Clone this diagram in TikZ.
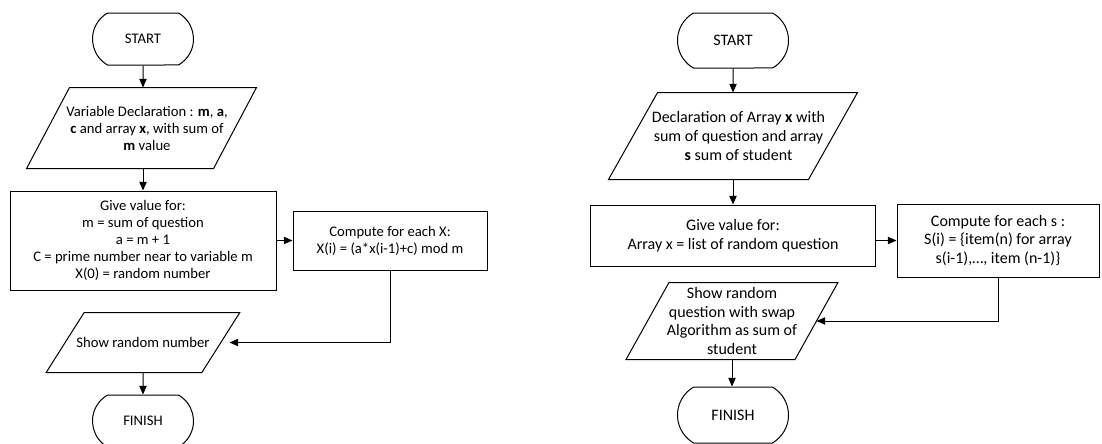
\documentclass[tikz,border=0pt]{standalone}
\usepackage{fontspec}
\setmainfont{Carlito}
\usetikzlibrary{shapes.misc,arrows.meta}

\tikzset{every picture/.style={line width=0.75pt}}
\tikzset{
  termbox/.style={draw, rounded rectangle, rounded rectangle arc length=120, inner sep=0.75pt},
  iobox/.style={rectangle, inner sep=0.75pt, align=center},
  procbox/.style={draw, rectangle, inner sep=0.75pt, align=center},
  flow/.style={-{Triangle[length=6.5pt,width=5.5pt]}}
}
% parallelogram round a node: #1 node, #2 shift of the top corners, #3 shift of the bottom corners
\newcommand{\ioshape}[3]{\draw ([xshift=#2]#1.north west) -- ([xshift=#2]#1.north east) -- ([xshift=#3]#1.south east) -- ([xshift=#3]#1.south west) -- cycle;}

\begin{document}
\begin{tikzpicture}[x=0.75pt,y=0.75pt,yscale=-1,xscale=1]
\useasboundingbox (0,0) rectangle (1102,443);

%Left chart
\begin{scope}[font=\fontsize{11pt}{12.75pt}\selectfont]
% Terminal
\node [termbox, minimum width=77.25pt, minimum height=39pt] (startL) at (143,39) {START};
% Input
\node [iobox, minimum width=139.5pt, minimum height=60pt] (declL) at (147,128) {Variable Declaration : \textbf{m}, \textbf{a},\\ \textbf{c} and array \textbf{x}, with sum of\\ \textbf{m} value};
% Process
\node [procbox, minimum width=199.5pt, minimum height=74.25pt] (valueL) at (143,240.5) {Give value for:\\ m = sum of question\\ a = m + 1\\ C = prime number near to variable m\\ X(0) = random number};
% Process
\node [procbox, minimum width=145.5pt, minimum height=44.25pt] (computeL) at (390,240.5) {Compute for each X:\\ X(i) = (a*x(i-1)+c) mod m};
% Output
\node [iobox, minimum width=116pt, minimum height=44.25pt] (showL) at (143,342.5) {Show random number};
% Terminal
\node [termbox, minimum width=77.25pt, minimum height=39pt] (finishL) at (143,421) {FINISH};
\end{scope}
\ioshape{declL}{12pt}{-20.2pt}
\ioshape{showL}{14.25pt}{-14.25pt}

\draw [flow] (startL) -- (startL |- declL.north);
\draw [flow] (valueL |- declL.south) -- (valueL);
\draw [flow] (valueL) -- (computeL);
\draw [flow, shorten >=6.5pt] (computeL.south) |- (showL.east);
\draw [flow] (showL) -- (finishL);

%Right chart
\begin{scope}[font=\fontsize{12pt}{14pt}\selectfont]
% Terminal
\node [termbox, minimum width=84.75pt, minimum height=41.25pt] (startR) at (733,40.5) {START};
% Input
\node [iobox, minimum width=149.25pt, minimum height=64.5pt] (declR) at (738.5,136) {Declaration of Array \textbf{x} with\\ sum of question and array\\ \textbf{s} sum of student};
% Process
\node [procbox, minimum width=213.75pt, minimum height=45.75pt] (valueR) at (733,235.5) {Give value for:\\ Array x = list of random question};
% Process
\node [procbox, minimum width=151.5pt, minimum height=54.75pt] (computeR) at (998,240.5) {Compute for each s :\\ S(i) = \{item(n) for array\\ s(i-1),…, item (n-1)\}};
% Output
\node [iobox, minimum width=126pt, minimum height=57pt] (showR) at (732,321) {Show random\\ question with swap\\ Algorithm as sum of\\ student};
% Terminal
\node [termbox, minimum width=84.75pt, minimum height=42pt] (finishR) at (733,415) {FINISH};
\end{scope}
\ioshape{declR}{14.3pt}{-22.5pt}
\ioshape{showR}{16.1pt}{-16.1pt}

\draw [flow] (startR) -- (startR |- declR.north);
\draw [flow] (valueR |- declR.south) -- (valueR);
\draw [flow] (valueR.east |- computeR.west) -- (computeR.west);
\draw [flow] (computeR.south) |- (showR.east);
\draw [flow] (showR) -- (showR |- finishR.north);

\end{tikzpicture}
\end{document}
